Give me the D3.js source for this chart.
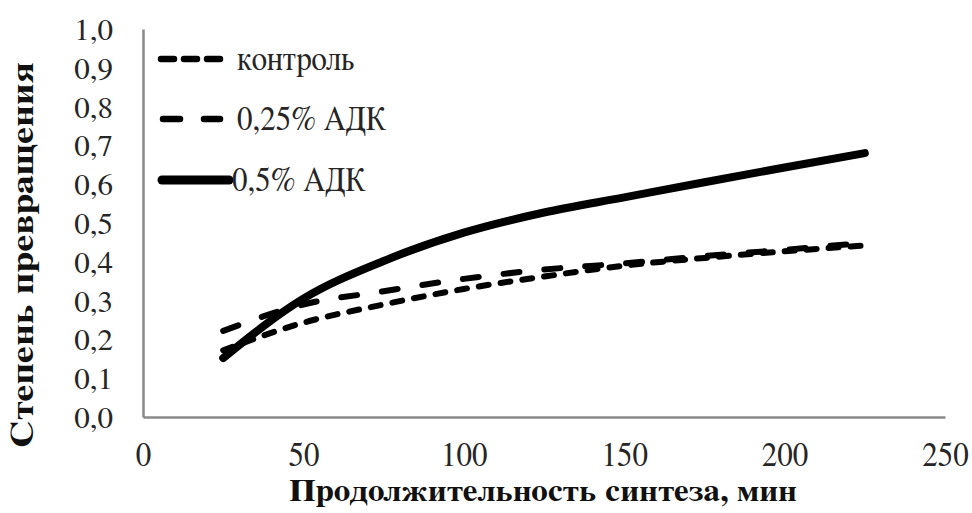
<!DOCTYPE html>
<html><head><meta charset="utf-8">
<script src="https://cdn.jsdelivr.net/npm/d3@7"></script>
<style>body{margin:0;background:#fff}svg{display:block}
text{font-family:"FreeSerif","Liberation Serif","Times New Roman",serif}</style>
</head><body>
<svg id="c" width="972" height="513"></svg>
<script>
const xValues = [25, 50, 75, 100, 125, 150, 175, 200, 225];
const control = [0.172, 0.243, 0.290, 0.330, 0.362, 0.390, 0.410, 0.427, 0.442];
const adk025 = [0.222, 0.290, 0.324, 0.356, 0.380, 0.396, 0.415, 0.431, 0.449];
const adk05 = [0.152, 0.305, 0.402, 0.475, 0.527, 0.566, 0.605, 0.643, 0.680];
const seriesNames = ["контроль", "0,25% АДК", "0,5% АДК"];
const xTicks = [0, 50, 100, 150, 200, 250];
const yTicks = [0, 0.1, 0.2, 0.3, 0.4, 0.5, 0.6, 0.7, 0.8, 0.9, 1.0];
const xTitle = "Продолжительность синтеза, мин";
const yTitle = "Степень превращения";

const svg = d3.select("#c");
const x = d3.scaleLinear().domain([0, 250]).range([143, 945]);
const y = d3.scaleLinear().domain([0, 1]).range([417, 29]);
const fmt = v => d3.format(".1f")(v).replace(".", ",");

// axes
const gx = svg.append("g").attr("transform", "translate(0,417)")
  .call(d3.axisBottom(x).tickValues(xTicks).tickSize(0).tickPadding(0).tickFormat(d3.format("d")));
const gy = svg.append("g").attr("transform", "translate(143,0)")
  .call(d3.axisLeft(y).tickValues(yTicks).tickSize(0).tickPadding(30).tickFormat(fmt));
[gx, gy].forEach(g => {
  g.attr("font-family", null);
  g.select(".domain").attr("stroke", "#8a8a8a").attr("stroke-width", 2.5);
  g.selectAll("text").attr("fill", "#262626");
});
gx.selectAll(".tick text").attr("font-size", 31).attr("dy", null).attr("y", 0)
  .attr("transform", "translate(0,49) scale(1,1.12)");
gy.selectAll(".tick text").attr("font-size", 31).attr("dy", "0.34em");

// lines
const line = d3.line().x((d, i) => x(xValues[i])).y(d => y(d)).curve(d3.curveMonotoneX);
const styles = [
  {data: control, w: 6, dash: "10,12"},
  {data: adk025, w: 6, dash: "16,25"},
  {data: adk05, w: 8, dash: null}
];
styles.forEach(s => {
  svg.append("path").attr("d", line(s.data)).attr("fill", "none")
    .attr("stroke", "#000").attr("stroke-width", s.w)
    .attr("stroke-linecap", "round").attr("stroke-dasharray", s.dash);
});

// legend
const legY = [59, 119, 180];
const legLine = [[161, 220, "13,10"], [163, 220, "17,24"], [162, 229, null]];
const legTextX = [237, 237, 232];
seriesNames.forEach((n, i) => {
  svg.append("line").attr("x1", legLine[i][0]).attr("x2", legLine[i][1])
    .attr("y1", legY[i]).attr("y2", legY[i]).attr("stroke", "#000")
    .attr("stroke-width", styles[i].w + (i === 2 ? 1 : 0.5)).attr("stroke-linecap", "round")
    .attr("stroke-dasharray", legLine[i][2]);
  svg.append("g").attr("transform", `translate(${legTextX[i]},${legY[i] + 11}) scale(1,1.12)`)
    .append("text").attr("font-size", 31).attr("fill", "#262626").text(n);
});

// titles
svg.append("text").attr("x", 543).attr("y", 501).attr("text-anchor", "middle")
  .attr("font-weight", "bold").attr("font-size", 31)
  .attr("textLength", 508).attr("lengthAdjust", "spacingAndGlyphs")
  .attr("fill", "#111").text(xTitle);
svg.append("text").attr("transform", "translate(33,255) rotate(-90)").attr("text-anchor", "middle")
  .attr("font-weight", "bold").attr("font-size", 32)
  .attr("textLength", 386).attr("lengthAdjust", "spacingAndGlyphs")
  .attr("fill", "#111").text(yTitle);
</script>
</body></html>
